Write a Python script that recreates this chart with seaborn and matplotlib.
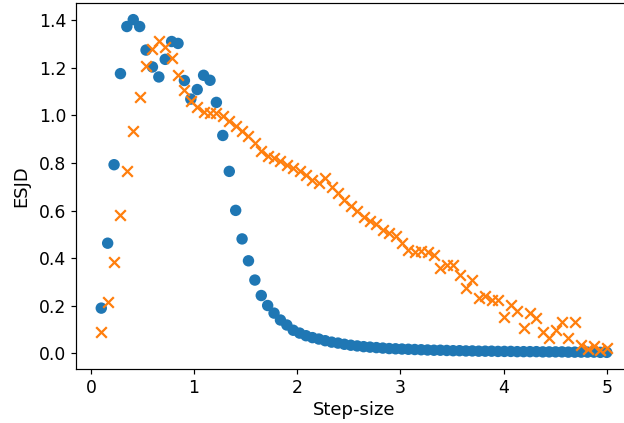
import matplotlib
matplotlib.use("Agg")
import matplotlib.pyplot as plt
import seaborn as sns
import pandas as pd

# step sizes (80 values from 0.1 to 5)
step_size = [0.100, 0.162, 0.224, 0.286, 0.348, 0.410, 0.472, 0.534, 0.596, 0.658,
             0.720, 0.782, 0.844, 0.906, 0.968, 1.030, 1.092, 1.154, 1.216, 1.278,
             1.341, 1.403, 1.465, 1.527, 1.589, 1.651, 1.713, 1.775, 1.837, 1.899,
             1.961, 2.023, 2.085, 2.147, 2.209, 2.271, 2.333, 2.395, 2.457, 2.519,
             2.581, 2.643, 2.705, 2.767, 2.829, 2.891, 2.953, 3.015, 3.077, 3.139,
             3.201, 3.263, 3.325, 3.387, 3.449, 3.511, 3.573, 3.635, 3.697, 3.759,
             3.822, 3.884, 3.946, 4.008, 4.070, 4.132, 4.194, 4.256, 4.318, 4.380,
             4.442, 4.504, 4.566, 4.628, 4.690, 4.752, 4.814, 4.876, 4.938, 5.000]

esjd_a = [0.190, 0.463, 0.793, 1.176, 1.374, 1.403, 1.374, 1.275, 1.204, 1.162,
          1.236, 1.311, 1.303, 1.147, 1.069, 1.109, 1.169, 1.148, 1.055, 0.916,
          0.765, 0.601, 0.481, 0.389, 0.308, 0.243, 0.201, 0.169, 0.140, 0.119,
          0.097, 0.085, 0.074, 0.066, 0.060, 0.053, 0.047, 0.043, 0.038, 0.034,
          0.031, 0.028, 0.026, 0.024, 0.022, 0.020, 0.019, 0.018, 0.017, 0.016,
          0.015, 0.014, 0.013, 0.013, 0.012, 0.011, 0.011, 0.010, 0.010, 0.009,
          0.009, 0.009, 0.008, 0.008, 0.008, 0.007, 0.007, 0.007, 0.007, 0.006,
          0.006, 0.006, 0.006, 0.005, 0.005, 0.005, 0.005, 0.005, 0.004, 0.004]

esjd_b = [0.088, 0.214, 0.384, 0.580, 0.765, 0.935, 1.078, 1.210, 1.278, 1.312,
          1.290, 1.240, 1.169, 1.109, 1.062, 1.035, 1.015, 1.012, 1.010, 0.998,
          0.977, 0.956, 0.935, 0.914, 0.885, 0.850, 0.828, 0.821, 0.807, 0.793,
          0.779, 0.765, 0.750, 0.729, 0.715, 0.736, 0.700, 0.672, 0.645, 0.620,
          0.600, 0.575, 0.555, 0.545, 0.520, 0.505, 0.495, 0.465, 0.435, 0.425,
          0.430, 0.425, 0.415, 0.360, 0.370, 0.370, 0.330, 0.275, 0.310, 0.233,
          0.240, 0.226, 0.226, 0.154, 0.204, 0.176, 0.105, 0.169, 0.148, 0.090,
          0.063, 0.098, 0.133, 0.063, 0.130, 0.034, 0.020, 0.030, 0.015, 0.022]

df = pd.DataFrame({"step": step_size, "a": esjd_a, "b": esjd_b})

plt.rcParams["font.size"] = 12

dpi = 108
fig = plt.figure(figsize=(624 / dpi, 423 / dpi), dpi=dpi)
ax = fig.add_axes([76 / 624, 54 / 423, 556 / 624, 366 / 423])

sns.scatterplot(data=df, x="step", y="a", color="#1f77b4", marker="o",
                s=58, edgecolor="none", linewidth=0, ax=ax)
sns.scatterplot(data=df, x="step", y="b", color="#ff7f0e", marker="x",
                s=50, linewidth=1.5, ax=ax)

ax.tick_params(labelsize=11.5, pad=3)
ax.set_xlabel("Step-size", labelpad=3)
ax.set_ylabel("ESJD", labelpad=6)

fig.savefig("out.png", dpi=dpi)
